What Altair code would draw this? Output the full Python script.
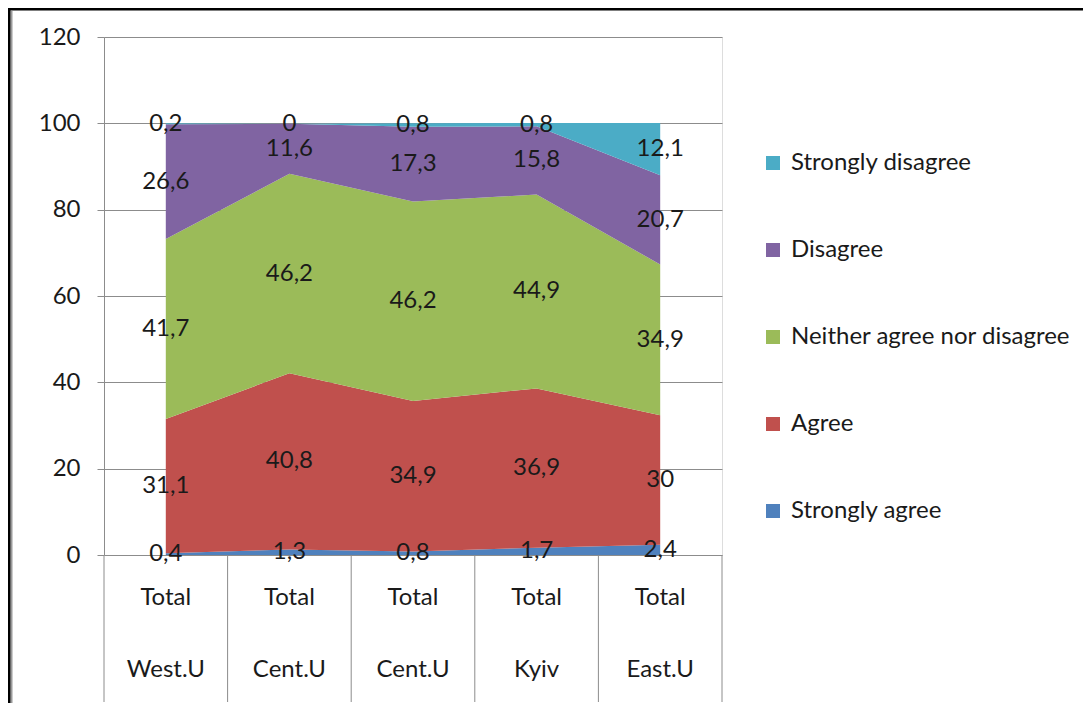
import altair as alt
import numpy as np
import pandas as pd

# ---- data ----
regions = ["West.U", "Cent.U", "Cent.U", "Kyiv", "East.U"]
subs = ["Total", "Total", "Total", "Total", "Total"]
categories = ["Strongly agree", "Agree", "Neither agree nor disagree", "Disagree", "Strongly disagree"]
colors = ["#4F81BD", "#C0504D", "#9BBB59", "#8064A2", "#4BACC6"]
strongly_agree = [0.4, 1.3, 0.8, 1.7, 2.4]
agree = [31.1, 40.8, 34.9, 36.9, 30]
neither = [41.7, 46.2, 46.2, 44.9, 34.9]
disagree = [26.6, 11.6, 17.3, 15.8, 20.7]
strongly_disagree = [0.2, 0, 0.8, 0.8, 12.1]
y_ticks = [0, 20, 40, 60, 80, 100, 120]

series = [strongly_agree, agree, neither, disagree, strongly_disagree]

FONT = "Lato"
FS = 24
GRID = "#8c8c8c"

rows = []
for i in range(len(regions)):
    base = 0.0
    for k, cat in enumerate(categories):
        v = series[k][i]
        rows.append({
            "idx": i, "region": regions[i], "category": cat, "order": k,
            "value": v, "mid": base + v / 2.0,
            "label": f"{v:g}".replace(".", ","),
        })
        base += v
df = pd.DataFrame(rows)

df_cat = pd.DataFrame({"idx": list(range(len(regions))), "region": regions, "sub": subs})
df_div = pd.DataFrame({"b": list(np.arange(len(regions) + 1) - 0.5)})
one = pd.DataFrame({"a": [0]})

xscale = alt.Scale(domain=[-0.5, len(regions) - 0.5], nice=False, zero=False)

area = alt.Chart(df).mark_area(opacity=1, interpolate="linear").encode(
    x=alt.X("idx:Q", scale=xscale, axis=None),
    y=alt.Y("value:Q", stack="zero",
            scale=alt.Scale(domain=[0, 120], nice=False),
            axis=alt.Axis(values=y_ticks, title=None, grid=True, gridColor=GRID,
                          gridWidth=1, domain=True, domainColor=GRID, tickColor=GRID,
                          tickSize=7, labelPadding=17, labelFont=FONT, labelFontSize=FS,
                          labelColor="#1a1a1a")),
    color=alt.Color("category:N",
                    scale=alt.Scale(domain=categories[::-1], range=colors[::-1]),
                    legend=alt.Legend(title=None, orient="none", legendX=657, legendY=114,
                                      direction="vertical", symbolType="square",
                                      symbolSize=196, symbolStrokeWidth=0,
                                      labelFont=FONT, labelFontSize=FS, labelColor="#1a1a1a",
                                      labelOffset=6, labelLimit=400, rowPadding=63, padding=0)),
    order=alt.Order("order:Q", sort="ascending"),
)

labels = alt.Chart(df).mark_text(font=FONT, fontSize=FS, color="#1a1a1a",
                                 align="center", baseline="middle").encode(
    x=alt.X("idx:Q", scale=xscale),
    y=alt.Y("mid:Q"),
    text="label:N",
)

sub_text = alt.Chart(df_cat).mark_text(font=FONT, fontSize=FS, color="#1a1a1a",
                                       align="center", baseline="middle").encode(
    x=alt.X("idx:Q", scale=xscale), y=alt.value(561), text="sub:N")

reg_text = alt.Chart(df_cat).mark_text(font=FONT, fontSize=FS, color="#1a1a1a",
                                       align="center", baseline="middle").encode(
    x=alt.X("idx:Q", scale=xscale), y=alt.value(633), text="region:N")

dividers = alt.Chart(df_div).mark_rule(color=GRID, strokeWidth=1).encode(
    x=alt.X("b:Q", scale=xscale), y=alt.value(518), y2=alt.value(665))

frame_left = alt.Chart(one).mark_rule(color="black", strokeWidth=3).encode(
    x=alt.value(-95), y=alt.value(-29), y2=alt.value(666))
frame_left_sh = alt.Chart(one).mark_rule(color="#9a9a9a", strokeWidth=2).encode(
    x=alt.value(-92.5), y=alt.value(-26), y2=alt.value(666))
frame_top = alt.Chart(one).mark_rule(color="black", strokeWidth=3).encode(
    x=alt.value(-96), x2=alt.value(980), y=alt.value(-28))

chart = alt.layer(area, labels, sub_text, reg_text, dividers,
                  frame_left_sh, frame_left, frame_top).properties(
    width=618, height=518,
    autosize=alt.AutoSizeParams(type="none"),
    padding={"left": 96, "top": 29, "right": 361, "bottom": 148},
).configure_view(stroke=None).configure(font=FONT)

chart.save("out.html", embed_options={"renderer": "svg", "actions": False})
